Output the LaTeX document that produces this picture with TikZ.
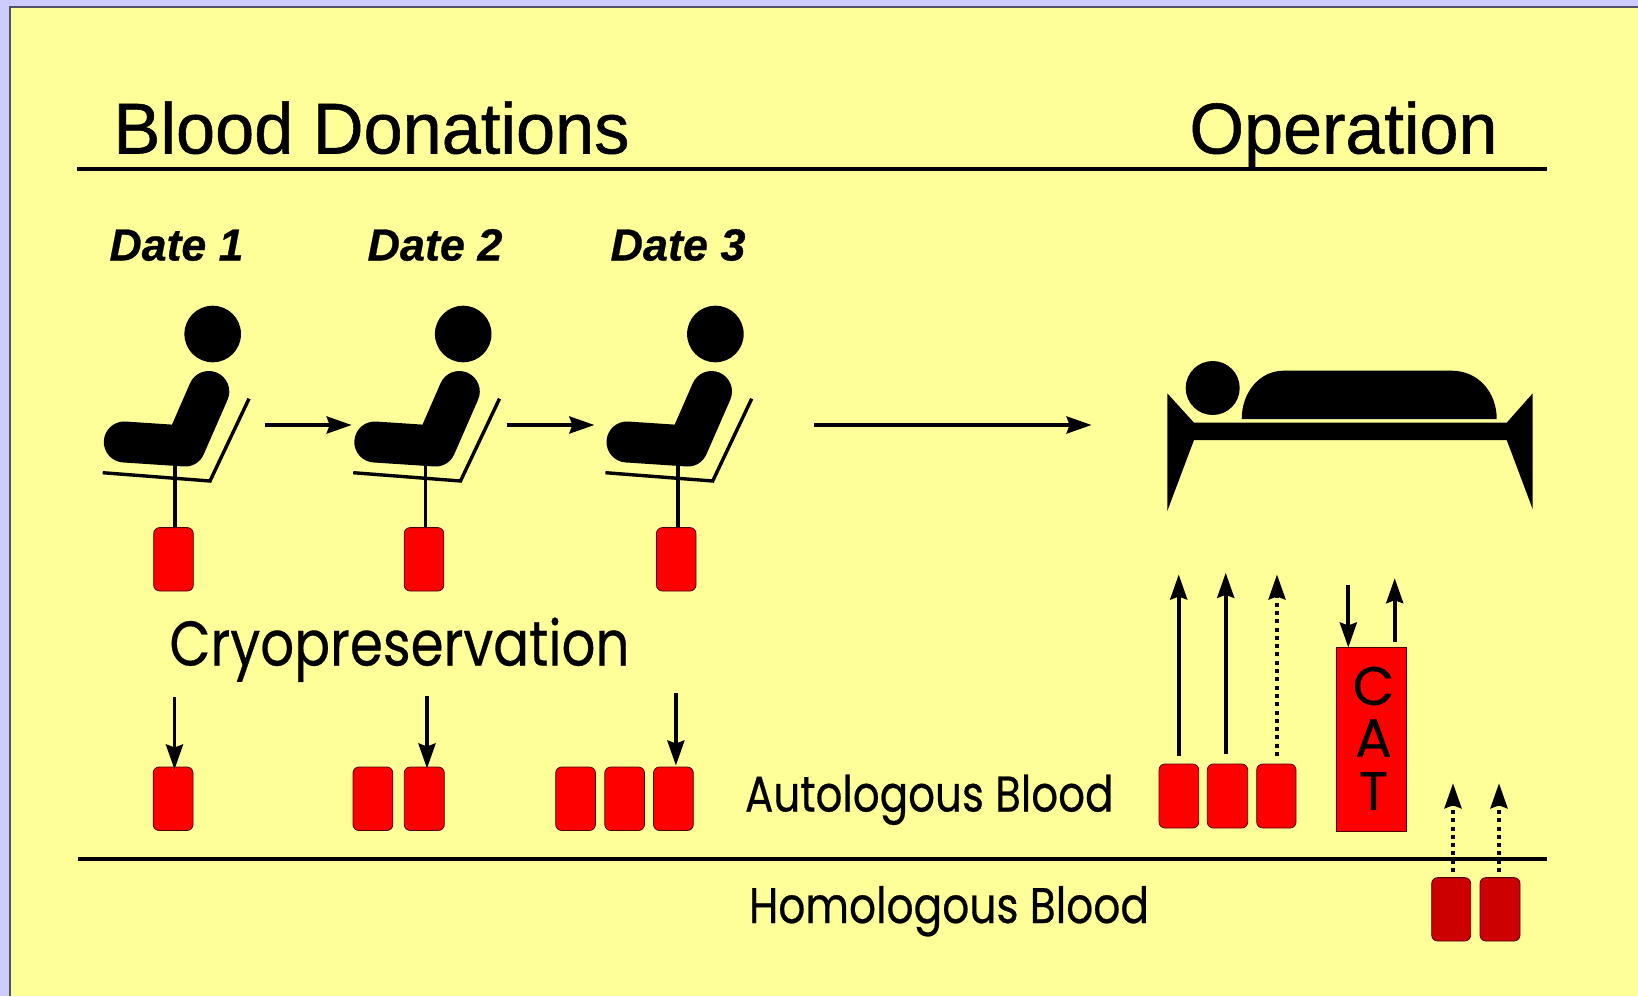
\documentclass[tikz,border=0pt]{standalone}
\usepackage{fontspec}
\usepackage{graphicx}
\setmainfont{Liberation Sans}
\newfontfamily\heavy[FakeBold=0.8]{Liberation Sans}
\newfontfamily\heavyit[FakeBold=0.6,BoldFont={Liberation Sans Bold Italic},UprightFont={Liberation Sans Bold Italic}]{Liberation Sans}
\newfontfamily\geo[FakeBold=0.5]{Poppins}
\usetikzlibrary{arrows.meta}
\definecolor{pagebg}{HTML}{CCCCFF}
\definecolor{panel}{HTML}{FFFF99}
\definecolor{bagdark}{HTML}{CC0000}
\tikzset{
  conn/.style={line width=3.7pt,-{Stealth[length=25pt,width=17pt,inset=3pt]}},
  dotconn/.style={conn,dash pattern=on 4pt off 4.3pt},
  rulex/.style={line width=4pt},
  bag/.style={draw=black!70!red,line width=0.8pt,fill=red,rounded corners=6pt},
  bagd/.style={draw=black!70!red,line width=0.8pt,fill=bagdark,rounded corners=6pt},
  lbl/.style={anchor=base west,inner sep=0pt,outer sep=0pt},
}
\newcommand{\fitw}[2]{\resizebox{#1pt}{\height}{#2}}
\newcommand{\person}[1]{%
  \begin{scope}[xshift=#1pt]
    \fill (212.7,334) circle (28.3);
    \draw[line width=41pt,line cap=round,line join=round] (124.3,442) -- (185,446) -- (208.8,391.5);
    \draw[line width=3.4pt,line join=miter] (102.7,472.7) -- (210,481) -- (249,398.7);
    \draw[line width=3.8pt] (175,465) -- (175,528);
    \draw[bag] (153.7,527.6) rectangle (193.3,591);
  \end{scope}}
\begin{document}
\begin{tikzpicture}[x=1pt,y=-1pt]
\useasboundingbox (0,0) rectangle (1638,996);
\fill[pagebg] (0,0) rectangle (1638,996);
\fill[panel] (10,7) rectangle (1638,996);
\draw[black!60!pagebg,line width=1.2pt] (10,996) -- (10,7) -- (1638,7);
% titles
\node[lbl,font=\heavy\fontsize{72}{72}\selectfont] (tdon) at (113.5,153.5) {\fitw{516}{Blood Donations}};
\node[lbl,font=\heavy\fontsize{72}{72}\selectfont] (top) at (1189.5,153.5) {\fitw{308}{Operation}};
\draw[rulex] (77.3,168.7) -- (1547,168.7);
\node[lbl,font=\heavyit\fontsize{45}{45}\selectfont] (d1) at (109.5,260.5) {\fitw{134}{Date 1}};
\node[lbl,font=\heavyit\fontsize{45}{45}\selectfont] (d2) at (367.5,260.5) {\fitw{135}{Date 2}};
\node[lbl,font=\heavyit\fontsize{45}{45}\selectfont] (d3) at (610.5,260.5) {\fitw{135}{Date 3}};
% people
\person{0}\person{250.5}\person{502.7}
% bed
\fill (1212.7,388) circle (27);
\fill (1241.7,419) .. controls (1241.7,392) and (1260,370.7) .. (1283.3,370.7) -- (1451.7,370.7) .. controls (1478,370.7) and (1496.7,392) .. (1496.7,419) -- cycle;
\fill (1167.3,393.3) -- (1194,422.7) -- (1506.7,422.7) -- (1532.7,393.3) -- (1532.7,509.3) -- (1506.7,440) -- (1194,440) -- (1167.3,511) -- cycle;
% top arrows
\coordinate (a1s) at (265,425); \coordinate (a1e) at (351.7,425);
\coordinate (a2s) at (506.7,425); \coordinate (a2e) at (594.4,425);
\coordinate (a3s) at (813.8,425); \coordinate (a3e) at (1091.6,425);
\draw[conn] (a1s) -- (a1e);
\draw[conn] (a2s) -- (a2e);
\draw[conn] (a3s) -- (a3e);
% cryo
\node[lbl,font=\geo\fontsize{63}{63}\selectfont] (cryo) at (169.5,665.5) {\fitw{460}{Cryopreservation}};
% stored bags
\draw[bag] (153.2,767) rectangle (193,830.5);
\draw[bag] (353,767) rectangle (392.8,830.5);
\draw[bag] (404.3,767) rectangle (444.3,830.5);
\draw[bag] (555.7,767) rectangle (595.4,830.5);
\draw[bag] (604.8,767) rectangle (644.5,830.5);
\draw[bag] (653.5,767) rectangle (693.3,830.5);
\draw[conn] (174.5,697) -- (174.5,769.5);
\draw[conn] (427,696) -- (427,768.5);
\draw[conn] (675.9,692.8) -- (675.9,765.5);
\node[lbl,font=\geo\fontsize{50}{50}\selectfont] (auto) at (745,811.5) {\fitw{368.5}{Autologous Blood}};
\draw[rulex] (78.3,858.7) -- (1547,858.7);
\node[lbl,font=\geo\fontsize{50}{50}\selectfont] (homo) at (749,923) {\fitw{400}{Homologous Blood}};
% operation bags
\draw[bag] (1159,764) rectangle (1198.7,828);
\draw[bag] (1207.3,764) rectangle (1247.7,828);
\draw[bag] (1256.7,764) rectangle (1296,828);
\draw[conn] (1178.7,756) -- (1178.7,574.5);
\draw[conn] (1225.7,754.3) -- (1225.7,572.8);
\draw[dotconn] (1277,756) -- (1277,574.5);
% CAT
\draw[fill=red,draw=black!70!red,line width=0.8pt] (1336.5,647.6) rectangle (1406.5,831);
\node[font=\geo\fontsize{54}{54}\selectfont,inner sep=0pt] (cc) at (1373.5,686) {C};
\node[font=\geo\fontsize{54}{54}\selectfont,inner sep=0pt] (ca) at (1373.5,738) {A};
\node[font=\geo\fontsize{54}{54}\selectfont,inner sep=0pt] (ct) at (1373.5,791) {T};
\draw[conn] (1348.3,584.5) -- (1348.3,647.5);
\draw[conn] (1394.7,641.8) -- (1394.7,578.2);
% homologous bags
\draw[bagd] (1431.7,877.6) rectangle (1470.7,941);
\draw[bagd] (1480,877.6) rectangle (1520,941);
\draw[dotconn] (1453,872) -- (1453,783.3);
\draw[dotconn] (1499,872) -- (1499,783.3);
\end{tikzpicture}
\end{document}
